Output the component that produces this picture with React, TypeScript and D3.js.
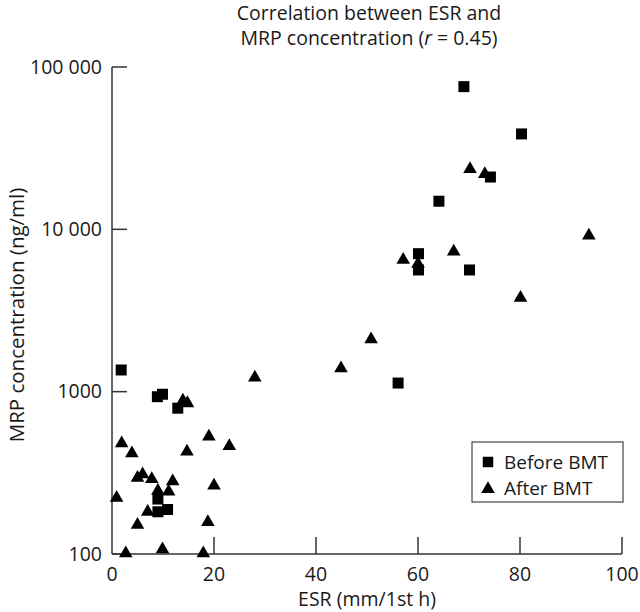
import React from "react";
import * as d3 from "d3";

const beforeESR = [69, 80.3, 74.2, 64.1, 60.1, 60.1, 70.1, 56.1, 1.8, 8.9, 9.9, 12.9, 9, 9, 10.9];
const beforeMRP = [75700, 38700, 21000, 14900, 7080, 5620, 5620, 1130, 1360, 931, 964, 791, 218, 182, 188];

const afterESR = [70.2, 73.1, 93.5, 67, 57.1, 60, 80.1, 50.8, 44.9, 28, 13.9, 14.8, 19, 1.9, 23, 3.9, 14.7, 6, 5, 7.8, 11.9, 20, 9, 11.1, 0.9, 7, 18.8, 5, 2.7, 9.9, 17.9];
const afterMRP = [23500, 21900, 9150, 7290, 6480, 6120, 3780, 2100, 1394, 1220, 880, 849, 528, 481, 462, 417, 427, 310, 295, 289, 280, 264, 245, 242, 222, 182, 157, 151, 101, 107, 101];

const xTicks = [0, 20, 40, 60, 80, 100];
const yTicks = [100, 1000, 10000, 100000];
const yTickLabels = ["100", "1000", "10 000", "100 000"];

const titleLines = ["Correlation between ESR and", "MRP concentration ("];
const legendLabels = ["Before BMT", "After BMT"];

const FONT = "'Open Sans', sans-serif";

export default function App() {
  const x = d3.scaleLinear().domain([0, 100]).range([112, 622]);
  const y = d3.scaleLog().domain([100, 100000]).range([554, 67]);
  const sq = d3.symbol(d3.symbolSquare, 121)();
  const tri = d3.symbol(d3.symbolTriangle, 80)();
  const sqSmall = d3.symbol(d3.symbolSquare, 110)();
  const triSmall = d3.symbol(d3.symbolTriangle, 80)();
  const axisColor = "#333";
  const textColor = "#1a1a1a";

  return (
    <svg
      width={640}
      height={612}
      style={{ position: "absolute", left: 0, top: 0, background: "#fff" }}
      fontFamily={FONT}
    >
      <rect x={0} y={0} width={640} height={612} fill="#fff" />
      {/* Title */}
      <text x={369} y={20} textAnchor="middle" fontSize={19.5} fill={textColor}>
        {titleLines[0]}
      </text>
      <text x={369} y={45} textAnchor="middle" fontSize={19.5} fill={textColor}>
        {titleLines[1]}
        <tspan fontStyle="italic">r</tspan>
        {" = 0.45)"}
      </text>

      {/* Axes */}
      <line x1={x(0)} x2={x(0)} y1={y(100000)} y2={y(100)} stroke={axisColor} strokeWidth={1.5} />
      <line x1={x(0)} x2={x(100)} y1={y(100)} y2={y(100)} stroke={axisColor} strokeWidth={1.5} />
      {yTicks.map((t, i) => (
        <g key={"yt" + t}>
          <line x1={x(0)} x2={x(0) + 15} y1={y(t)} y2={y(t)} stroke={axisColor} strokeWidth={1.5} />
          <text x={x(0) - 10} y={y(t)} dy="0.35em" textAnchor="end" fontSize={19.5} fill={textColor}>
            {yTickLabels[i]}
          </text>
        </g>
      ))}
      {xTicks.map((t) => (
        <g key={"xt" + t}>
          {t > 0 && (
            <line x1={x(t)} x2={x(t)} y1={y(100)} y2={y(100) - 17} stroke={axisColor} strokeWidth={1.5} />
          )}
          <text x={x(t)} y={y(100) + 20} dy="0.35em" textAnchor="middle" fontSize={19.5} fill={textColor}>
            {t}
          </text>
        </g>
      ))}

      {/* Axis titles */}
      <text x={367} y={606} textAnchor="middle" fontSize={19.5} fill={textColor}>
        ESR (mm/1st h)
      </text>
      <text
        transform={`translate(24,${315}) rotate(-90)`}
        textAnchor="middle"
        fontSize={20.5}
        fill={textColor}
      >
        MRP concentration (ng/ml)
      </text>

      {/* Points */}
      {afterESR.map((e, i) => (
        <path key={"a" + i} d={tri} transform={`translate(${x(e)},${y(afterMRP[i])})`} fill="#000" />
      ))}
      {beforeESR.map((e, i) => (
        <path key={"b" + i} d={sq} transform={`translate(${x(e)},${y(beforeMRP[i])})`} fill="#000" />
      ))}

      {/* Legend */}
      <rect x={472} y={442} width={151} height={60} fill="#fff" stroke="#444" strokeWidth={1.2} />
      <path d={sqSmall} transform="translate(488,462)" fill="#000" />
      <path d={triSmall} transform="translate(488,489)" fill="#000" />
      <text x={504} y={462} dy="0.35em" fontSize={19} fill={textColor}>
        {legendLabels[0]}
      </text>
      <text x={504} y={488} dy="0.35em" fontSize={19} fill={textColor}>
        {legendLabels[1]}
      </text>
    </svg>
  );
}
